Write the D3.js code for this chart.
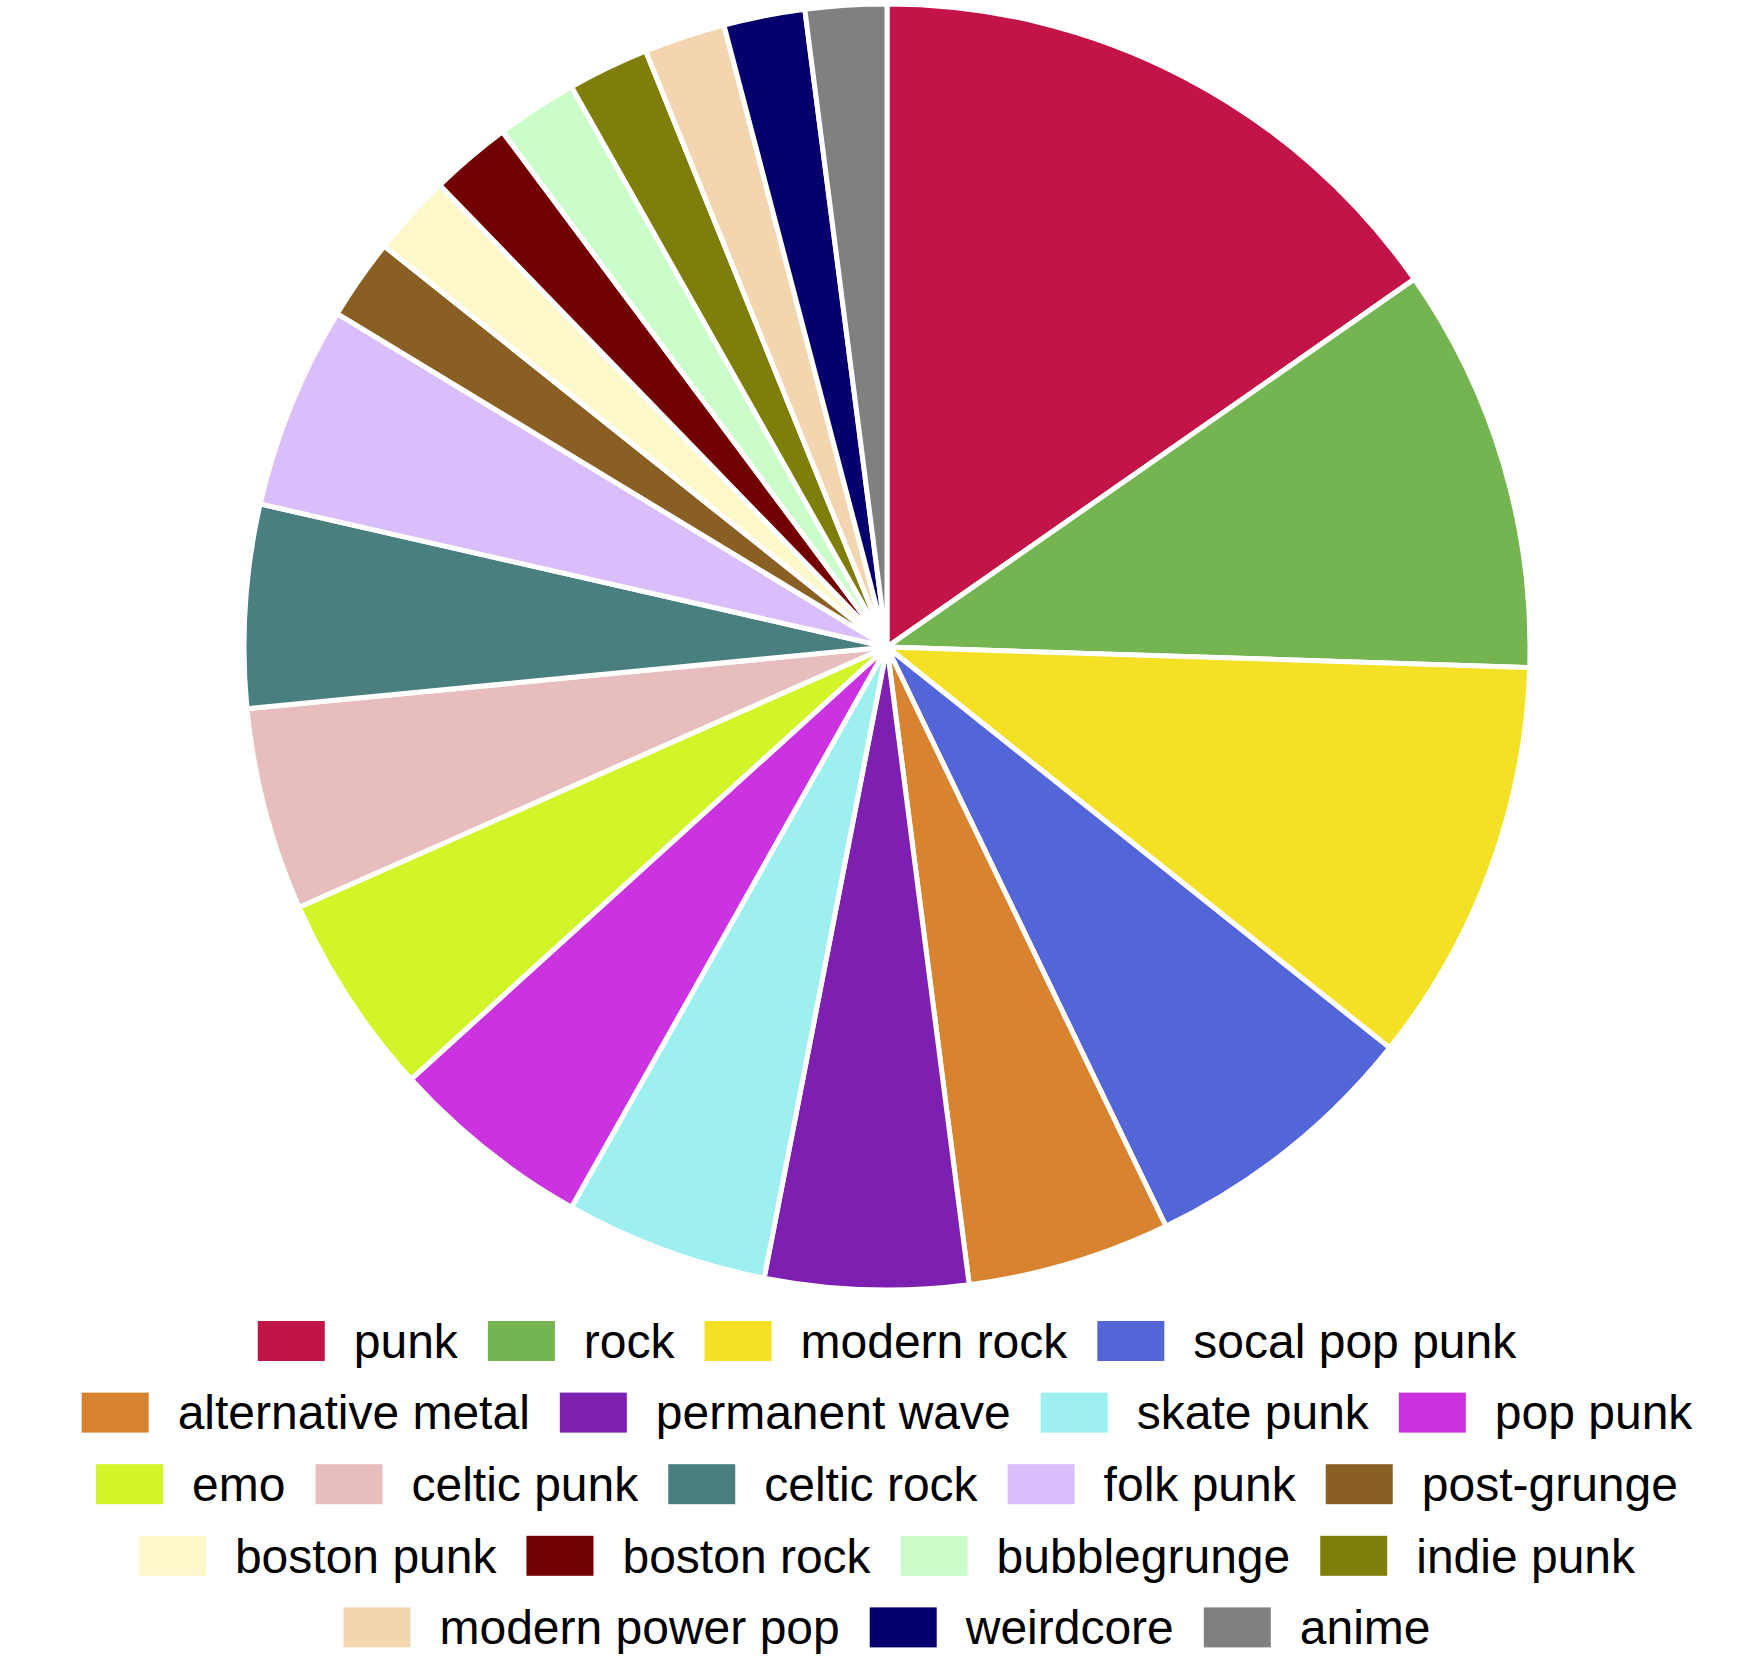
<!DOCTYPE html>
<html>
<head>
<meta charset="utf-8">
<script src="https://cdn.jsdelivr.net/npm/d3@7"></script>
<style>
  body { margin: 0; background: #fff; }
  svg { display: block; }
</style>
</head>
<body>
<script>
// genres, in drawing order (clockwise from 12 o'clock)
const genres = ["punk", "rock", "modern rock", "socal pop punk", "alternative metal",
  "permanent wave", "skate punk", "pop punk", "emo", "celtic punk", "celtic rock",
  "folk punk", "post-grunge", "boston punk", "boston rock", "bubblegrunge",
  "indie punk", "modern power pop", "weirdcore", "anime"];
const counts = [15, 10, 10, 7, 5, 5, 5, 5, 5, 5, 5, 5, 2, 2, 2, 2, 2, 2, 2, 2];
const colors = ["#c21446", "#74b451", "#f4e024", "#5366d8", "#d88330",
  "#7d1fb0", "#9eefef", "#cb33e0", "#d2f52a", "#e8bdbd", "#4a7f7f",
  "#dabefb", "#8a5f24", "#fdf8ca", "#720000", "#cbfdcb",
  "#807e0b", "#f3d6b0", "#05006d", "#808080"];

const width = 1756, height = 1676;
const cx = 887, cy = 647, radius = 643;

const svg = d3.select("body").append("svg")
  .attr("width", width)
  .attr("height", height);

const color = d3.scaleOrdinal().domain(genres).range(colors);

const pie = d3.pie().sort(null).value(d => d.count);
const arc = d3.arc().innerRadius(0).outerRadius(radius);

const data = genres.map((g, i) => ({ genre: g, count: counts[i] }));

svg.append("g")
  .attr("transform", `translate(${cx},${cy})`)
  .selectAll("path")
  .data(pie(data))
  .join("path")
  .attr("d", arc)
  .attr("fill", d => color(d.data.genre))
  .attr("stroke", "white")
  .attr("stroke-width", 5)
  .attr("stroke-linejoin", "round");

// legend: flowing rows, each row centred under the pie
const sw = 67, sh = 40, gapText = 29, gapItem = 30, fontSize = 48;
const maxRow = 1700, rowTop = 1341, rowStep = 71.6;

const legend = svg.append("g").attr("class", "legend");

// measure label widths
const measure = legend.append("text")
  .style("font-family", "Liberation Sans, Arial, sans-serif")
  .style("font-size", fontSize + "px");
const items = genres.map(g => {
  measure.text(g);
  const tw = measure.node().getComputedTextLength();
  return { genre: g, tw: tw, w: sw + gapText + tw };
});
measure.remove();

const rows = [];
let cur = [], curW = 0;
items.forEach(it => {
  const add = cur.length ? gapItem + it.w : it.w;
  if (cur.length && curW + add > maxRow) {
    rows.push({ items: cur, w: curW });
    cur = [it]; curW = it.w;
  } else {
    cur.push(it); curW += add;
  }
});
if (cur.length) rows.push({ items: cur, w: curW });

rows.forEach((row, ri) => {
  const yc = rowTop + ri * rowStep;
  let x = cx - row.w / 2;
  row.items.forEach(it => {
    legend.append("rect")
      .attr("x", x).attr("y", yc - sh / 2)
      .attr("width", sw).attr("height", sh)
      .attr("fill", color(it.genre));
    legend.append("text")
      .attr("x", x + sw + gapText).attr("y", yc)
      .attr("dy", "0.35em")
      .style("font-family", "Liberation Sans, Arial, sans-serif")
      .style("font-size", fontSize + "px")
      .attr("fill", "#000")
      .text(it.genre);
    x += it.w + gapItem;
  });
});
</script>
</body>
</html>
